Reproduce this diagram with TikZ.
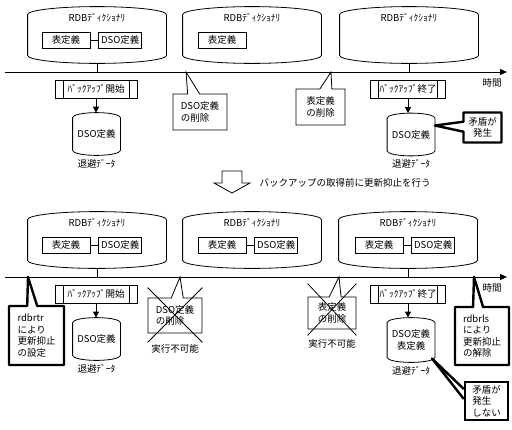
\documentclass[tikz,border=0pt]{standalone}
\usepackage{fontspec}
\setmainfont{Noto Sans CJK JP}
\usetikzlibrary{positioning, calc, arrows.meta, shapes.callouts}

\begin{document}
\begin{tikzpicture}[x=1pt, y=-1pt, line width=0.8pt,
  every node/.style = {align=center, font=\fontsize{9.5}{11.5}\selectfont},
  bigdrum/.style = {minimum width=138pt, minimum height=56pt, inner sep=0pt},
  smalldrum/.style = {minimum width=47pt, minimum height=42pt, inner sep=0pt},
  box/.style = {draw, minimum width=#1, minimum height=16pt, inner sep=1pt},
  box/.default = 48pt,
  bkbox/.style = {draw, minimum width=#1, minimum height=18pt, inner sep=1pt,
    path picture={
      \draw ([xshift=8pt]path picture bounding box.north west) -- ([xshift=8pt]path picture bounding box.south west)
            ([xshift=-8pt]path picture bounding box.north east) -- ([xshift=-8pt]path picture bounding box.south east);}},
  note/.style = {rectangle callout, draw, fill=white, align=left, inner sep=2pt, callout pointer width=12pt},
  warn/.style = {note, line width=2.4pt, line join=round, callout pointer width=10pt},
  warnbox/.style = {draw, fill=white, align=left, inner sep=2pt, line width=2.4pt},
  arr/.style = {-{Triangle[length=6pt,width=6pt]}},
  timearr/.style = {-{Triangle[length=7pt,width=6pt]}}
  ]
\useasboundingbox (0,0) rectangle (512,429);

% before
\node[bigdrum] (dictA) at (97,35) {};
\node[bigdrum] (dictB) at (252,35) {};
\node[bigdrum] (dictC) at (409,35) {};
\node (nameA) [below=3pt of dictA.north] {RDBﾃﾞｨｸｼｮﾅﾘ};
\node (nameB) [below=3pt of dictB.north] {RDBﾃﾞｨｸｼｮﾅﾘ};
\node (nameC) [below=3pt of dictC.north] {RDBﾃﾞｨｸｼｮﾅﾘ};
\node[box] (tblA) at ([xshift=-31pt,yshift=-5pt]dictA.center) {表定義};
\node[box=43pt] (dsoA) [right=8pt of tblA] {DSO定義};
\node[box] (tblB) at ([xshift=-30pt,yshift=-5pt]dictB.center) {表定義};
\draw (tblA) -- (dsoA);

\coordinate (tlA) at (5,72);
\coordinate (tlAend) at (507,72);
\node (timeA) at (492,83) {時間};

\node[bkbox=82pt] (bkA) at (96,89) {ﾊﾞｯｸｱｯﾌﾟ開始};
\node[bkbox=75pt] (bkB) at (408,89) {ﾊﾞｯｸｱｯﾌﾟ終了};
\node[smalldrum] (dumpA) at (96.5,134) {DSO定義};
\node[smalldrum] (dumpB) at (411,134.5) {DSO定義};
\node (saveA) [below=0pt of dumpA] {退避ﾃﾞｰﾀ};
\node (saveB) [below=0pt of dumpB] {退避ﾃﾞｰﾀ};

\node[note, minimum width=54pt, minimum height=36pt, callout absolute pointer={(186,72)}] (delA) at (200,112) {DSO定義\\の削除};
\node[note, minimum width=49pt, minimum height=36pt, callout absolute pointer={(331,72)}] (delB) at (320.5,107) {表定義\\の削除};
\node[warn, minimum width=38pt, minimum height=30pt, align=center, callout absolute pointer={([yshift=9pt]dumpB.east)}] (clashA) at (482.5,127.5) {矛盾が\\発生};

\draw (dictA.south) -- (dictA.south |- tlA);
\draw (dictC.south) -- (dictC.south |- tlA);
\draw[arr] (bkA) -- (bkA |- dumpA.north);
\draw[arr] (bkB) -- (bkB |- dumpB.north);
\draw[timearr] (tlA) -- (tlAend);

% step between
\draw (222,171) -- (242,171) -- (242,183) -- (250,183) -- (232,193) -- (214,183) -- (222,183) -- cycle;
\node[anchor=west] (rule) at (256,183) {バックアップの取得前に更新抑止を行う};

% after
\node[bigdrum] (dictD) at (97,240) {};
\node[bigdrum] (dictE) at (252,240) {};
\node[bigdrum] (dictF) at (408,240) {};
\node (nameD) [below=3pt of dictD.north] {RDBﾃﾞｨｸｼｮﾅﾘ};
\node (nameE) [below=3pt of dictE.north] {RDBﾃﾞｨｸｼｮﾅﾘ};
\node (nameF) [below=3pt of dictF.north] {RDBﾃﾞｨｸｼｮﾅﾘ};
\node[box] (tblD) at ([xshift=-31pt,yshift=-5pt]dictD.center) {表定義};
\node[box=43pt] (dsoD) [right=8pt of tblD] {DSO定義};
\node[box] (tblE) at ([xshift=-30pt,yshift=-5pt]dictE.center) {表定義};
\node[box=43pt] (dsoE) [right=8pt of tblE] {DSO定義};
\node[box] (tblF) at ([xshift=-29pt,yshift=-5pt]dictF.center) {表定義};
\node[box=43pt] (dsoF) [right=8pt of tblF] {DSO定義};
\draw (tblD) -- (dsoD);
\draw (tblE) -- (dsoE);
\draw (tblF) -- (dsoF);

\coordinate (tlB) at (5,277);
\coordinate (tlBend) at (507,277);
\node (timeB) at (492,288) {時間};

\node[bkbox=82pt] (bkC) at (96,294) {ﾊﾞｯｸｱｯﾌﾟ開始};
\node[bkbox=75pt] (bkD) at (408,294) {ﾊﾞｯｸｱｯﾌﾟ終了};
\node[smalldrum] (dumpC) at (96.5,339) {DSO定義};
\node[smalldrum, minimum height=44pt] (dumpD) at (411,340) {DSO定義\\表定義};
\node (saveC) [below=0pt of dumpC] {退避ﾃﾞｰﾀ};
\node (saveD) [below=0pt of dumpD] {退避ﾃﾞｰﾀ};

\node[warn, minimum width=55pt, minimum height=59pt, callout absolute pointer={(28,277)}] (lockOn) at (36.5,335.5) {rdbrtr\\により\\更新抑止\\の設定};
\node[warn, minimum width=54pt, minimum height=58pt, callout absolute pointer={(474,277)}] (lockOff) at (482,336) {rdbrls\\により\\更新抑止\\の解除};
\node[note, minimum width=54pt, minimum height=35pt, callout absolute pointer={(180,277)}] (xDelA) at (175,315.5) {DSO定義\\の削除};
\node[note, minimum width=48pt, minimum height=32pt, callout absolute pointer={(339,277)}] (xDelB) at (332,313) {表定義\\の削除};
\node (noA) [below=7pt of xDelA] {実行不可能};
\node (noB) [below=6pt of xDelB] {実行不可能};
\draw ([yshift=10pt]xDelA.north west) -- ([yshift=-9pt]xDelA.south east)
      ([yshift=10pt]xDelA.north east) -- ([yshift=-9pt]xDelA.south west);
\draw ([yshift=13pt]xDelB.north west) -- ([yshift=-6pt]xDelB.south east)
      ([yshift=13pt]xDelB.north east) -- ([yshift=-6pt]xDelB.south west);
\node[warnbox, minimum width=43pt, minimum height=38pt] (clashB) at (486.5,401) {矛盾が\\発生\\しない};
\draw[line width=2.4pt, line join=round] ([yshift=12pt]clashB.west) -- ([shift={(-3pt,4pt)}]dumpD.south east) -- ([yshift=2pt]clashB.west);

\draw (dictD.south) -- (dictD.south |- tlB);
\draw (dictF.south) -- (dictF.south |- tlB);
\draw[arr] (bkC) -- (bkC |- dumpC.north);
\draw[arr] (bkD) -- (bkD |- dumpD.north);
\draw[timearr] (tlB) -- (tlBend);

\foreach \c/\r in {dictA/8pt, dictB/8pt, dictC/8pt, dictD/8pt, dictE/8pt, dictF/8pt,
                   dumpA/5pt, dumpB/5pt, dumpC/5pt, dumpD/5pt}
  \draw let \p1 = (\c.north west), \p2 = (\c.south east), \n1 = {(\x2-\x1)/2} in
    (\x1,\y1-\r) arc[start angle=180, end angle=0, x radius={\n1*1pt}, y radius=\r]
    -- (\x2,\y2+\r) arc[start angle=0, end angle=-180, x radius={\n1*1pt}, y radius=\r] -- cycle;
\end{tikzpicture}
\end{document}
